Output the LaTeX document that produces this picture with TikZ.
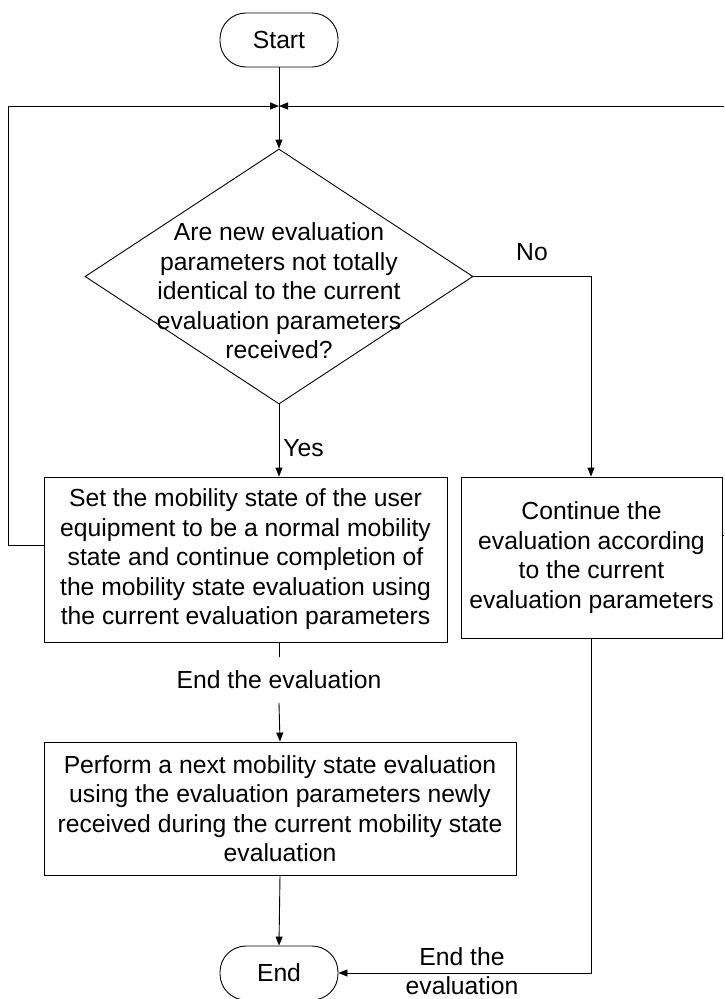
\documentclass[tikz,border=0pt]{standalone}
\usepackage{fontspec}
\setmainfont{Liberation Sans}
\usetikzlibrary{shapes.geometric,arrows.meta}

\tikzset{
  terminal/.style={draw, rounded corners=26pt, minimum width=118pt, minimum height=54pt, inner sep=0pt},
  decision/.style={draw, diamond, minimum width=388pt, minimum height=255pt, inner sep=0pt},
  process/.style={draw, align=center, inner sep=0pt},
  flow/.style={-{Triangle[length=9pt,width=7pt]}},
}

\begin{document}
\begin{tikzpicture}[x=1pt, y=-1pt, line width=0.9pt,
    font=\fontsize{24.7}{29.5}\selectfont]
			%%%%% START %%%%%
			\useasboundingbox (0, 0) rectangle (724, 999);
			
			\node[terminal] (start) at (279, 40) {Start};
			\coordinate (merge) at (279, 106);
			
			\node[decision] (quest) at (279, 276.5) {};
			\node[align=center, inner sep=0pt] (questtext) at (279, 291) {Are new evaluation\\parameters not totally\\identical to the current\\evaluation parameters\\received?};
			
			\node[process, minimum width=403pt, minimum height=165pt] (setnormal) at (245.5, 559.5) {Set the mobility state of the user\\equipment to be a normal mobility\\state and continue completion of\\the mobility state evaluation using\\the current evaluation parameters};
			\node[process, minimum width=261pt, minimum height=161pt] (contin) at (591.5, 557.5) {Continue the\\evaluation according\\to the current\\evaluation parameters};
			
			\node[inner sep=0pt, minimum height=45pt] (endlabel) at (279, 680) {End the evaluation};
			\node[process, minimum width=472pt, minimum height=133pt] (nexteval) at (280, 808.5) {Perform a next mobility state evaluation\\using the evaluation parameters newly\\received during the current mobility state\\evaluation};
			\node[terminal] (end) at (279, 973) {End};
			
			\coordinate (loopleft) at (8, 545);
			\coordinate (loopright) at (724, 106);
			\coordinate (stubright) at (724, 535);
			\coordinate (colright) at (591, 0);
			
			\draw[flow] (start) -- (quest.north);
			\draw[flow] (setnormal.west |- loopleft) -- (loopleft) |- (merge);
			\draw[flow] (loopright) -- (merge);
			\draw (contin.east |- stubright) -- (stubright);
			
			\draw[flow] (quest.south) -- (quest.south |- setnormal.north);
			\node[anchor=west, inner sep=0pt] (yes) at (283, 448) {Yes};
			\draw[flow] (quest.east) -| (contin.north -| colright);
			\node[inner sep=0pt] (no) at (532, 252) {No};
			
			\draw (setnormal.south -| endlabel) -- (endlabel.north);
			\draw[flow] (endlabel.south) -- (nexteval.north);
			\draw[flow] (nexteval.south) -- (end.north);
			\draw[flow] (contin.south -| colright) |- (end.east);
			\node[align=center, inner sep=0pt] (endlabel2) at (462, 971) {End the\\evaluation};
			
			%%%%% END %%%%%
\end{tikzpicture}
\end{document}
